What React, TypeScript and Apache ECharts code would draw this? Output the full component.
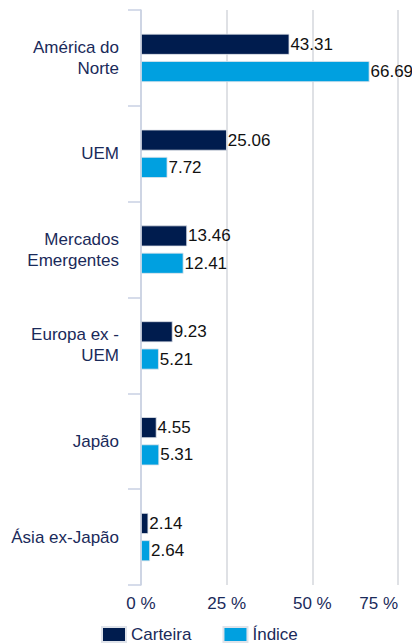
import React, { useEffect, useRef } from "react";
import * as echarts from "echarts";

const categories = [
  "América do\nNorte",
  "UEM",
  "Mercados\nEmergentes",
  "Europa ex -\nUEM",
  "Japão",
  "Ásia ex-Japão",
];
const carteira = [43.31, 25.06, 13.46, 9.23, 4.55, 2.14];
const indice = [66.69, 7.72, 12.41, 5.21, 5.31, 2.64];
const seriesNames = ["Carteira", "Índice"];
const xTicks = [0, 25, 50, 75];

export default function App() {
  const ref = useRef<HTMLDivElement>(null);
  useEffect(() => {
    if (!ref.current) return;
    const chart = echarts.init(ref.current, undefined, { renderer: "svg" });
    const font = "Arial";
    const label = {
      show: true,
      position: "right",
      distance: 1,
      color: "#111111",
      fontSize: 17,
      fontFamily: font,
      formatter: (p: any) => p.value.toFixed(2),
    };
    chart.setOption({
      animation: false,
      grid: { left: 141, right: 14, top: 10, bottom: 58, containLabel: false },
      legend: {
        top: 626,
        left: 101,
        padding: 0,
        itemWidth: 24,
        itemHeight: 15,
        itemGap: 31,
        icon: "rect",
        textStyle: { color: "#1a2a5a", fontSize: 17, fontFamily: font },
        data: seriesNames,
      },
      xAxis: {
        type: "value",
        min: 0,
        max: 75,
        interval: 25,
        axisLine: { show: false },
        axisTick: { show: false },
        splitLine: { lineStyle: { color: "#d4d7dc", width: 1.5 } },
        axisLabel: {
          color: "#1a2a5a",
          fontSize: 17,
          fontFamily: font,
          margin: 10,
          alignMaxLabel: "right",
          formatter: (v: number) => (xTicks.includes(v) ? v + " %" : ""),
        },
      },
      yAxis: {
        type: "category",
        inverse: true,
        data: categories,
        axisLine: { show: true, lineStyle: { color: "#c9d1e3", width: 1.5 } },
        axisTick: { show: true, length: 13, lineStyle: { color: "#c9d1e3", width: 1.5 } },
        axisLabel: {
          color: "#1a2a5a",
          fontSize: 17,
          fontFamily: font,
          margin: 22,
          lineHeight: 21,
          align: "right",
        },
      },
      series: [
        {
          name: seriesNames[0],
          type: "bar",
          data: carteira,
          barWidth: 21,
          barGap: "30%",
          itemStyle: { color: "#001c4e", borderColor: "#dfe3ea", borderWidth: 0.8 },
          label,
        },
        {
          name: seriesNames[1],
          type: "bar",
          data: indice,
          barWidth: 21,
          barGap: "30%",
          itemStyle: { color: "#00a0e0", borderColor: "#dfe3ea", borderWidth: 0.8 },
          label,
        },
      ],
    });
    return () => chart.dispose();
  }, []);
  return (
    <div
      ref={ref}
      style={{ position: "absolute", left: 0, top: 0, width: 412, height: 643, overflow: "hidden" }}
    />
  );
}
